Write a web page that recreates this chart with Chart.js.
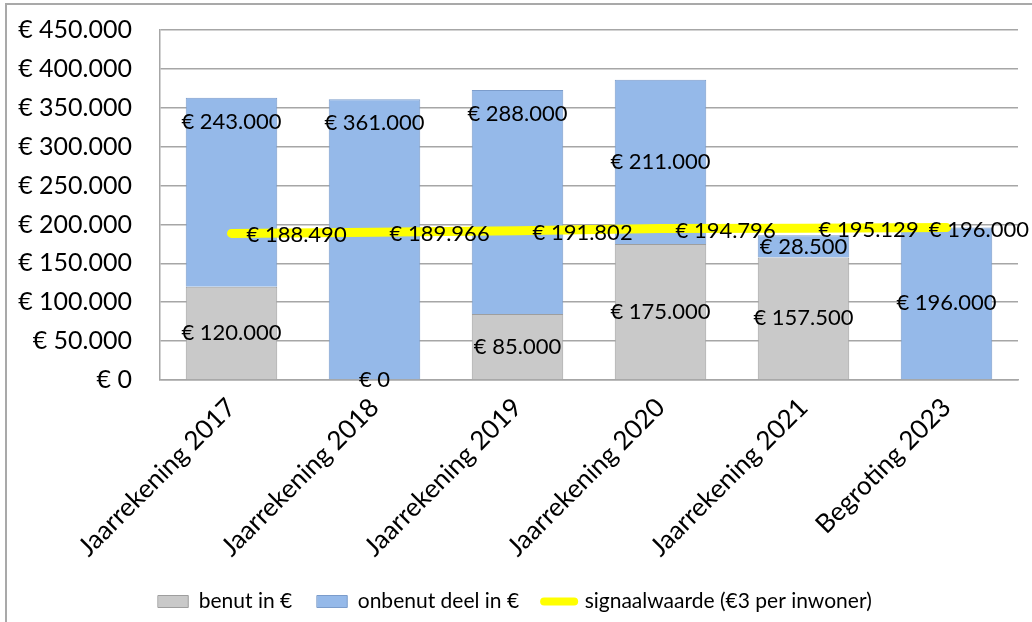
<!DOCTYPE html>
<html>
<head>
<meta charset="utf-8">
<script src="https://cdn.jsdelivr.net/npm/chart.js@4"></script>
<style>
    html, body { margin: 0; padding: 0; background: #fff; overflow: hidden; }
    #kader { position: absolute; left: 5px; top: 3px; width: 1060px; height: 660px; border: 2px solid #a9a9a9; }
    #wrap { position: absolute; left: 0; top: 0; width: 1032px; height: 622px; }
</style>
</head>
<body>
<div id="kader"></div>
<div id="wrap"><canvas id="signaal-chart" width="1032" height="622"></canvas></div>
<script>
const categories = ['Jaarrekening 2017', 'Jaarrekening 2018', 'Jaarrekening 2019', 'Jaarrekening 2020', 'Jaarrekening 2021', 'Begroting 2023'];
const benut = [120000, 0, 85000, 175000, 157500, null];
const onbenut = [243000, 361000, 288000, 211000, 28500, 196000];
const signaalwaarde = [188490, 189966, 191802, 194796, 195129, 196000];
const yTicks = [0, 50000, 100000, 150000, 200000, 250000, 300000, 350000, 400000, 450000];
// waar het label van het onbenutte deel staat
const onbenutLabelPos = ['top', 'top', 'top', 'center', 'center', 'center'];

function euro(v) {
    return '€ ' + String(v).replace(/\B(?=(\d{3})+(?!\d))/g, '.');
}

const labelPlugin = {
    id: 'waardeLabels',
    afterDatasetsDraw(chart) {
        const ctx = chart.ctx;
        ctx.save();
        ctx.font = '22px Lato';
        ctx.fillStyle = '#000';
        ctx.textBaseline = 'middle';
        chart.data.datasets.forEach(function (ds, i) {
            const meta = chart.getDatasetMeta(i);
            meta.data.forEach(function (el, j) {
                const v = ds.data[j];
                if (v === null || v === undefined) return;
                const txt = euro(v);
                if (ds.type === 'line') {
                    ctx.textAlign = 'left';
                    // laatste label schuift naar links zodat het past
                    const x = Math.min(el.x + 15, chart.width - ctx.measureText(txt).width - 3);
                    ctx.fillText(txt, x, el.y + 2);
                } else {
                    ctx.textAlign = 'center';
                    let y = (el.y + el.base) / 2;
                    if (i === 1 && onbenutLabelPos[j] === 'top') y = el.y + 24;
                    ctx.fillText(txt, el.x, y);
                }
            });
        });
        ctx.restore();
    }
};

let signaalChart = new Chart(document.getElementById('signaal-chart'), {
    data: {
        labels: categories,
        datasets: [{
            type: 'bar',
            label: 'benut in €',
            data: benut,
            backgroundColor: '#c9c9c9',
            borderColor: '#9e9e9e',
            borderWidth: 1,
            stack: 'bars',
            order: 2
        }, {
            type: 'bar',
            label: 'onbenut deel in €',
            data: onbenut,
            backgroundColor: '#95b9e9',
            borderColor: '#7b9ccb',
            borderWidth: 1,
            stack: 'bars',
            order: 2
        }, {
            type: 'line',
            label: 'signaalwaarde (€3 per inwoner)',
            data: signaalwaarde,
            borderColor: '#ffff00',
            backgroundColor: '#ffff00',
            borderWidth: 9,
            borderCapStyle: 'round',
            pointRadius: 0,
            tension: 0,
            stack: 'lijn',
            order: 1
        }]
    },
    options: {
        responsive: false,
        animation: false,
        layout: {
            padding: { left: 12, top: 30, right: 14, bottom: 0 }
        },
        datasets: {
            bar: { categoryPercentage: 1.0, barPercentage: 0.64 }
        },
        plugins: {
            tooltip: { enabled: false },
            legend: {
                position: 'bottom',
                labels: {
                    color: '#000',
                    font: { size: 21, family: 'Lato' },
                    usePointStyle: true,
                    pointStyleWidth: 30,
                    boxHeight: 12,
                    padding: 25,
                    generateLabels: function (chart) {
                        return chart.data.datasets.map(function (ds, i) {
                            const isLine = ds.type === 'line';
                            return {
                                text: ds.label,
                                datasetIndex: i,
                                fillStyle: ds.backgroundColor,
                                strokeStyle: ds.borderColor,
                                lineWidth: isLine ? 8 : 1,
                                lineCap: 'round',
                                pointStyle: isLine ? 'line' : 'rect',
                                fontColor: '#000',
                                hidden: false
                            };
                        });
                    }
                }
            }
        },
        scales: {
            x: {
                stacked: true,
                grid: { display: false },
                border: { display: true, color: '#a6a6a6', width: 1.5 },
                ticks: {
                    color: '#000',
                    font: { size: 26, family: 'Lato' },
                    minRotation: 45,
                    maxRotation: 45,
                    padding: 4
                },
                afterFit: function (scale) { scale.height = 186; }
            },
            y: {
                stacked: true,
                min: 0,
                max: 450000,
                grid: { color: '#a6a6a6', lineWidth: 1.5, drawTicks: true, tickLength: 20, tickColor: 'rgba(0,0,0,0)' },
                border: { display: true, color: '#a6a6a6', width: 1.5 },
                afterBuildTicks: function (scale) {
                    scale.ticks = yTicks.map(function (v) { return { value: v }; });
                },
                ticks: {
                    color: '#000',
                    font: { size: 25, family: 'Lato' },
                    padding: 8,
                    callback: function (value) { return euro(value); }
                },
                afterFit: function (scale) { scale.width = 148; }
            }
        }
    },
    plugins: [labelPlugin]
});
</script>
</body>
</html>
